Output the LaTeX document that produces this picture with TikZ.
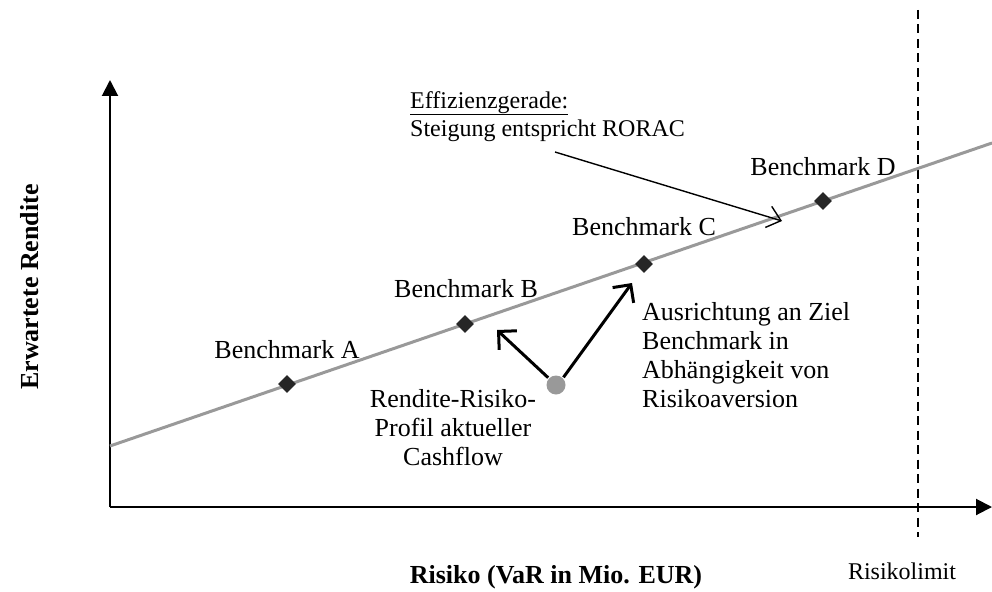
\documentclass[tikz,border=0pt]{standalone}
\usepackage{fontspec}
\setmainfont{Liberation Serif}
\usetikzlibrary{arrows.meta,shapes.geometric}

\begin{document}
\begin{tikzpicture}[x=1pt,y=-1pt,
  axis/.style={line width=2pt,-{Triangle[width=16pt,length=16pt]}},
  frontier/.style={line width=3pt,draw=black!40},
  bmark/.style={diamond,fill=black!85,inner sep=0pt,minimum width=18pt,minimum height=18pt},
  lbl/.style={font=\fontsize{26}{29}\selectfont,inner sep=0pt},
  small/.style={font=\fontsize{24}{28}\selectfont,inner sep=0pt},
  bmlabel/.style={lbl,anchor=base},
  move/.style={line width=3pt,-{Straight Barb[length=13pt,width=26pt,line width=3pt]}},
  note/.style={line width=1.4pt,-{Straight Barb[length=13pt,width=22pt,line width=1.4pt]}},
  ]
\useasboundingbox (0,0) rectangle (992,591);

% axes
\coordinate (origin) at (110,507);
\coordinate (ytop) at (110,80);
\coordinate (xend) at (992,507);
\draw[axis] (origin) -- (ytop);
\draw[axis] (origin) -- (xend);

% risk limit
\coordinate (limtop) at (918,10);
\coordinate (limbot) at (918,537);
\draw[line width=1.8pt,dash pattern=on 9pt off 5.5pt] (limtop) -- (limbot);

% efficient frontier
\coordinate (fstart) at (110,446);
\coordinate (fend) at (992,143);
\draw[frontier] (fstart) -- (fend);

% benchmarks
\node[bmark] (bA) at (287,384) {};
\node[bmark] (bB) at (465,324) {};
\node[bmark] (bC) at (644,264) {};
\node[bmark] (bD) at (823,201) {};
\node[bmlabel] (lA) at (287,358) {Benchmark A};
\node[bmlabel] (lB) at (466,297) {Benchmark B};
\node[bmlabel] (lC) at (644,235) {Benchmark C};
\node[bmlabel] (lD) at (823,175) {Benchmark D};

% current cash flow profile
\node[circle,fill=black!40,inner sep=0pt,minimum size=19pt] (cf) at (556,385) {};
\coordinate (tipB) at (497,330);
\coordinate (tipC) at (632,283);
\draw[move,shorten <=1pt] (cf) -- (tipB);
\draw[move,shorten <=1pt] (cf.north east) -- (tipC);

\node[lbl,align=center,anchor=north] (cftext) at (453,389)
  {Rendite-Risiko-\\Profil aktueller\\Cashflow};
\node[lbl,align=left,anchor=north west] (aim) at (642,302)
  {Ausrichtung an Ziel\\Benchmark in\\Abhängigkeit von\\Risikoaversion};

% frontier annotation
\node[small,align=left,anchor=north west] (eff) at (410,91)
  {\underline{Effizienzgerade:}\\Steigung entspricht RORAC};
\coordinate (effstart) at (555,152);
\coordinate (efftip) at (782,221);
\draw[note] (effstart) -- (efftip);

% axis titles
\node[lbl,font=\fontsize{26}{29}\selectfont\bfseries,rotate=90] (ylab) at (30,287) {Erwartete Rendite};
\node[lbl,font=\fontsize{26}{29}\selectfont\bfseries,anchor=base] (xlab) at (556,583) {Risiko (VaR in Mio. EUR)};
\node[small,anchor=base] (limlab) at (902,579) {Risikolimit};
\end{tikzpicture}
\end{document}
